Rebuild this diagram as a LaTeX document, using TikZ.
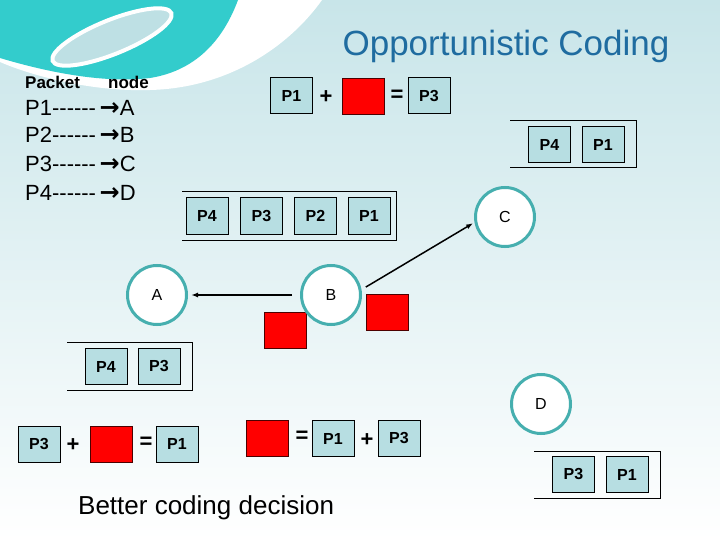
\documentclass[tikz,border=0pt]{standalone}
\usepackage{fontspec}
\setmainfont{Liberation Sans}
\newfontfamily\arrowfont{DejaVu Sans}
\usetikzlibrary{arrows.meta}
\definecolor{bgtop}{RGB}{200,229,233}
\definecolor{swoosh}{RGB}{51,204,204}
\definecolor{swooshin}{RGB}{190,224,228}
\definecolor{ring}{RGB}{70,175,175}
\definecolor{pktfill}{RGB}{183,222,226}
\definecolor{titleblue}{RGB}{31,108,160}
\newcommand{\maparrow}{\,{\arrowfont\bfseries\fontsize{24}{24}\selectfont →}}
\newcommand{\mapdash}{-{}-{}-{}-{}-{}-}
\begin{document}
\begin{tikzpicture}[x=1pt, y=-1pt,
  pkt/.style={draw, line width=1pt, fill=pktfill, minimum width=42pt, minimum height=36pt, inner sep=0pt, font=\fontsize{16}{18}\selectfont\bfseries},
  coded/.style={draw=black!70!red, line width=0.8pt, fill=red, minimum width=42pt, minimum height=36pt, inner sep=0pt},
  op/.style={inner sep=0pt, font=\fontsize{22}{24}\selectfont\bfseries},
  station/.style={circle, draw=ring, line width=3pt, fill=white, minimum size=59pt, inner sep=0pt, font=\fontsize{16}{18}\selectfont},
  queue/.style={line width=1pt},
  link/.style={line width=1.5pt, -{Latex[length=7pt,width=5pt]}},
  legend/.style={anchor=west, inner sep=0pt, font=\fontsize{22}{24}\selectfont}]

  % Background and the swoosh in the corner
  \useasboundingbox (0,0) rectangle (720,540);
  \shade[top color=bgtop, bottom color=white] (0,0) rectangle (720,540);
  \fill[white] (225,0) -- (322,0) .. controls (290,45) and (230,88) .. (150,90)
    .. controls (90,92) and (30,75) .. (0,62) -- (0,50) -- cycle;
  \fill[swoosh] (0,0) -- (238,0) .. controls (225,35) and (200,70) .. (150,78)
    .. controls (100,84) and (40,70) .. (0,58) -- cycle;
  \filldraw[fill=swooshin, draw=white, line width=4pt, rotate around={22:(112,37)}] (112,37) ellipse (64 and 17);

  % Title and legend
  \node[font=\fontsize{35}{38}\selectfont, text=titleblue] (title) at (506,46) {Opportunistic Coding};
  \node[anchor=west, inner sep=0pt, font=\fontsize{17}{20}\selectfont\bfseries] (headpkt) at (25,82) {Packet};
  \node[anchor=west, inner sep=0pt, font=\fontsize{17}{20}\selectfont\bfseries] (headnode) at (108,82) {node};
  \node[legend] (mapa) at (25,108) {P1\mapdash\maparrow A};
  \node[legend] (mapb) at (25,135) {P2\mapdash\maparrow B};
  \node[legend] (mapc) at (25,164) {P3\mapdash\maparrow C};
  \node[legend] (mapd) at (25,193) {P4\mapdash\maparrow D};

  % C codes P1 with P3
  \node[pkt] (topone) at (291.5,96) {P1};
  \node[op] (topplus) at (326,97) {+};
  \node[coded] (topcoded) at (363,96) {};
  \node[op] (topeq) at (397,96) {=};
  \node[pkt] (topthree) at (429,96) {P3};

  % Queue at the sender
  \draw[queue] (182,192) -- (396,192) -- (396,240) -- (182,240);
  \node[pkt] (sfour) at (207,216) {P4};
  \node[pkt] (sthree) at (261.5,216) {P3};
  \node[pkt] (stwo) at (315.5,216) {P2};
  \node[pkt] (sone) at (369,216) {P1};

  % Queue at C
  \draw[queue] (510,121) -- (636,121) -- (636,168) -- (510,168);
  \node[pkt] (cfour) at (549.5,144.5) {P4};
  \node[pkt] (cone) at (603,144.5) {P1};

  % Coded packets sent by B
  \node[coded] (bcodedl) at (285,330) {};
  \node[coded] (bcodedr) at (387,312) {};

  % Nodes
  \node[station] (A) at (157,295) {A};
  \node[station] (B) at (331,295) {B};
  \node[station] (C) at (505,217) {C};
  \node[station] (D) at (541,404) {D};
  \draw[link, shorten <=8pt, shorten >=3pt] (B) -- (A);
  \draw[link, shorten <=5pt, shorten >=1.5pt] (B.10) -- (C.190);

  % Queue at A
  \draw[queue] (67,342) -- (192,342) -- (192,390) -- (67,390);
  \node[pkt] (afour) at (106,366.5) {P4};
  \node[pkt] (athree) at (159,366.5) {P3};

  % Queue at D
  \draw[queue] (534,451) -- (660,451) -- (660,498) -- (534,498);
  \node[pkt] (dthree) at (573.5,474.5) {P3};
  \node[pkt] (done) at (627,474.5) {P1};

  % A decodes P1
  \node[pkt] (lowthree) at (39,444) {P3};
  \node[op] (lowplus) at (73,445) {+};
  \node[coded] (lowcoded) at (111.5,444) {};
  \node[op] (loweq) at (146,443) {=};
  \node[pkt] (lowone) at (177,444) {P1};

  % Coded packet built by B
  \node[coded] (midcoded) at (267.5,438.5) {};
  \node[op] (mideq) at (302,437) {=};
  \node[pkt] (midone) at (333,438.5) {P1};
  \node[op] (midplus) at (367,440) {+};
  \node[pkt] (midthree) at (399,438.5) {P3};

  \node[anchor=west, inner sep=0pt, font=\fontsize{26}{30}\selectfont] (better) at (78,508) {Better coding decision};
\end{tikzpicture}
\end{document}
